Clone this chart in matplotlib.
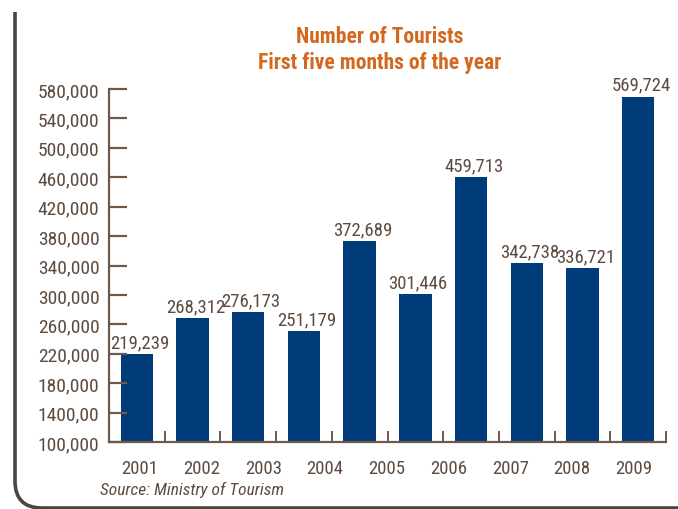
import numpy as np
import matplotlib.pyplot as plt
from matplotlib.path import Path
from matplotlib.patches import PathPatch

plt.rcParams['font.family'] = ['Roboto Condensed', 'DejaVu Sans']

# data
values = [219239, 268312, 276173, 251179, 372689, 301446, 459713, 342738, 336721, 569724]
years = ['2001', '2002', '2003', '2004', '2005', '2006', '2007', '2008', '2009']
yticks = [100000, 140000, 180000, 220000, 260000, 300000, 340000, 380000,
          420000, 460000, 500000, 540000, 580000]
ytick_labels = ['100,000', '1400,00', '180,000', '220,000', '260,000', '300,000',
                '340,000', '380,000', '420,000', '460,000', '500,000', '540,000', '580,000']

txt = '#5e4b3f'
axc = '#6e5a4a'
barc = '#003b7a'

fig = plt.figure(figsize=(6.78, 5.10), dpi=100)
ax = fig.add_axes([109/678, 1 - 443/510, 557/678, 353/510])

x = np.arange(len(values))
ax.bar(x, values, width=0.58, color=barc, bottom=0)
for xi, v in zip(x, values):
    ax.text(xi + 0.05, v + 4000, f'{v:,}', ha='center', va='bottom',
            fontsize=13.5, color=txt)

ax.set_xlim(-0.5, len(values) - 0.5)
ax.set_ylim(100000, 580000)
ax.set_yticks(yticks, ytick_labels)
# the year labels do not sit under the bars in the original
ax.set_xticks(np.linspace(0.05, 8.92, len(years)), years)
ax.set_xticks(np.arange(len(values) + 1) - 0.5, minor=True)

for s in ['top', 'right']:
    ax.spines[s].set_visible(False)
for s in ['left', 'bottom']:
    ax.spines[s].set_color(axc)
    ax.spines[s].set_linewidth(1.6)

ax.tick_params(axis='y', direction='in', length=13, width=1.6, color=axc,
               labelsize=14, labelcolor=txt, pad=7)
ax.tick_params(axis='x', which='major', length=0, labelsize=13.5,
               labelcolor=txt, pad=12)
ax.tick_params(axis='x', which='minor', direction='in', length=8, width=1.4,
               color=axc)

fig.text(380/678, 1 - 50/510, 'Number of Tourists\nFirst five months of the year',
         ha='center', va='center', fontsize=15.5, fontweight='bold',
         color='#d2691f', linespacing=1.2)
fig.text(100/678, 1 - 490/510, 'Source: Ministry of Tourism', ha='left',
         va='center', fontsize=12.5, style='italic', color=txt)

# rounded frame line on the left and bottom
W, H = 678, 510
pts = [(15/W, 1 - 13/H), (15/W, 1 - 482/H), (15/W, 1 - 509/H), (42/W, 1 - 509/H),
       (1.0, 1 - 509/H)]
codes = [Path.MOVETO, Path.LINETO, Path.CURVE3, Path.CURVE3, Path.LINETO]
fig.add_artist(PathPatch(Path(pts, codes), transform=fig.transFigure,
                         fill=False, edgecolor='#4d4444', linewidth=2.6))

fig.savefig('out.png', dpi=100)
